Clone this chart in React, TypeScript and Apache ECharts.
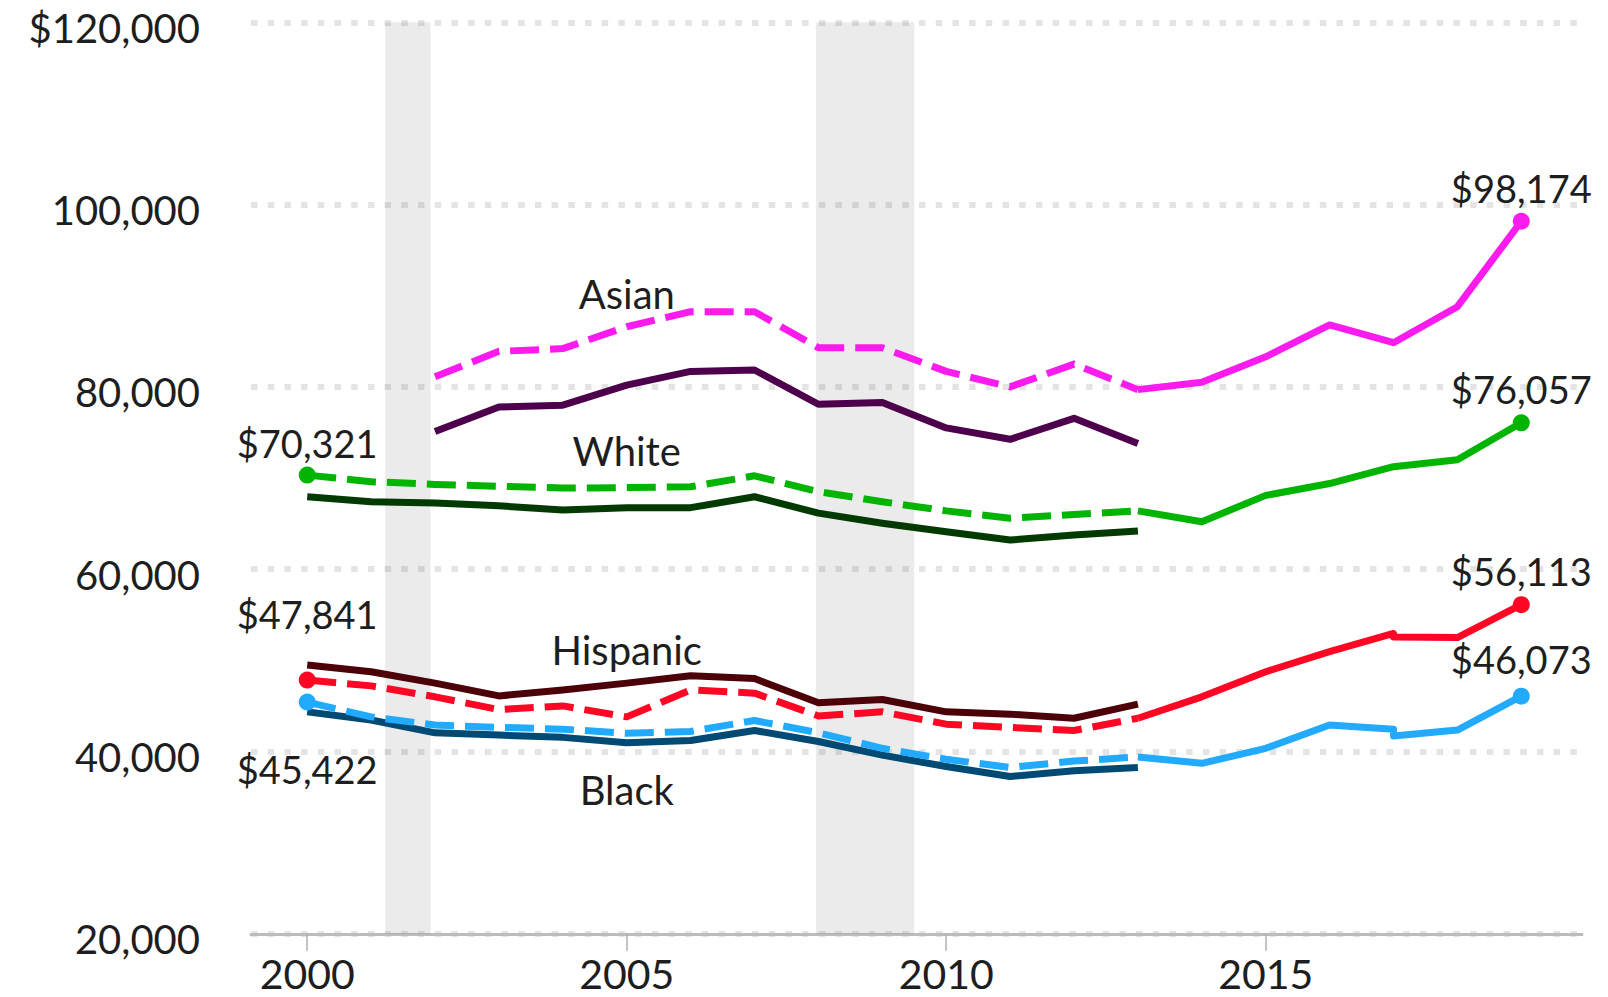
import React, { useEffect, useRef } from 'react';
import * as echarts from 'echarts';

// ---------- data ----------
const oldYears = [2000, 2001, 2002, 2003, 2004, 2005, 2006, 2007, 2008, 2009, 2010, 2011, 2012, 2013];
const asianOldYears = [2002, 2003, 2004, 2005, 2006, 2007, 2008, 2009, 2010, 2011, 2012, 2013];
const newYears = [2013, 2014, 2015, 2016, 2017, 2017, 2018, 2019];

const asianDashed = [81100, 83900, 84200, 86600, 88250, 88250, 84300, 84300, 81700, 80000, 82500, 79700];
const asianSolid = [75100, 77800, 78000, 80200, 81700, 81850, 78100, 78300, 75500, 74250, 76550, 73800];
const asianNew = [79700, 80500, 83300, 86800, 84850, 84850, 88800, 98174];

const whiteDashed = [70321, 69600, 69300, 69100, 68900, 68950, 69050, 70250, 68500, 67400, 66400, 65600, 66000, 66400];
const whiteSolid = [67950, 67400, 67250, 66950, 66500, 66750, 66750, 67950, 66150, 65050, 64100, 63200, 63750, 64200];
const whiteNew = [66400, 65200, 68100, 69400, 71250, 71250, 72000, 76057];

const hispanicDashed = [47841, 47200, 46000, 44600, 45000, 43800, 46750, 46400, 43900, 44350, 43000, 42650, 42300, 43650];
const hispanicSolid = [49500, 48750, 47500, 46100, 46750, 47500, 48300, 48000, 45350, 45700, 44350, 44100, 43650, 45200];
const hispanicNew = [43650, 46000, 48750, 50950, 52950, 52550, 52500, 56113];

const blackDashed = [45422, 43800, 42900, 42650, 42450, 42000, 42200, 43400, 42050, 40350, 39150, 38250, 38950, 39400];
const blackSolid = [44350, 43450, 42050, 41800, 41550, 40950, 41200, 42300, 41100, 39600, 38350, 37250, 37900, 38250];
const blackNew = [39400, 38700, 40350, 42900, 42450, 41700, 42350, 46073];

const recessionStarts = [2001.22, 2007.96];
const recessionEnds = [2001.93, 2009.5];

const xTickYears = [2000, 2005, 2010, 2015];
const groupNames = ['Asian', 'White', 'Hispanic', 'Black'];

// ---------- styling ----------
const FONT = 'Lato, "Open Sans", sans-serif';
const TEXT = '#1e1e1e';
const AXIS_FS = 41;
const Y_FS = 40;
const VALUE_FS = 38;
const NAME_FS = 40;
const C = {
  magenta: '#fc1bee',
  purple: '#4d004b',
  green: '#00b400',
  darkGreen: '#023a02',
  red: '#ff0624',
  maroon: '#4c0008',
  lightBlue: '#22aaff',
  darkBlue: '#004a74',
};

const fmt = (v: number) => '$' + v.toLocaleString('en-US');

function line(xs: number[], ys: number[], color: string, dashed: boolean, z = 3) {
  return {
    type: 'line',
    data: xs.map((x, i) => [x, ys[i]]),
    symbol: 'none',
    silent: true,
    z,
    lineStyle: {
      color,
      width: 7,
      opacity: 1,
      type: dashed ? [29, 11] : 'solid',
      cap: 'butt',
      join: 'round',
    },
  };
}

export default function App() {
  const ref = useRef<HTMLDivElement>(null);

  useEffect(() => {
    const chart = echarts.init(ref.current!, null, { renderer: 'svg' });

    const last = (a: number[]) => a[a.length - 1];
    const lastYear = newYears[newYears.length - 1];

    const dots = [
      { value: [oldYears[0], whiteDashed[0]], color: C.green, pos: 'top', dist: 5 },
      { value: [oldYears[0], hispanicDashed[0]], color: C.red, pos: 'top', dist: 39 },
      { value: [oldYears[0], blackDashed[0]], color: C.lightBlue, pos: 'bottom', dist: 39 },
      { value: [lastYear, last(asianNew)], color: C.magenta, pos: 'top', dist: 6 },
      { value: [lastYear, last(whiteNew)], color: C.green, pos: 'top', dist: 6 },
      { value: [lastYear, last(hispanicNew)], color: C.red, pos: 'top', dist: 6 },
      { value: [lastYear, last(blackNew)], color: C.lightBlue, pos: 'top', dist: 10 },
    ].map((d) => ({
      value: d.value,
      itemStyle: { color: d.color, opacity: 1 },
      label: {
        show: true,
        position: d.pos,
        distance: d.dist,
        formatter: (p: any) => fmt(p.value[1]),
        fontFamily: FONT,
        fontSize: VALUE_FS,
        color: TEXT,
      },
    }));

    const groupAnchors = [90200, 72950, 51150, 35800];
    const nameLabels = groupNames.map((n, i) => ({
      value: [2005, groupAnchors[i]],
      name: n,
    }));

    const option = {
      animation: false,
      backgroundColor: '#ffffff',
      grid: { left: 251, right: 26, top: 22.3, bottom: 63.2, containLabel: false },
      xAxis: {
        type: 'value',
        min: 1999.12,
        max: 2019.95,
        splitLine: { show: false },
        axisLine: { show: true, lineStyle: { color: '#bcbcbc', width: 3 } },
        axisTick: {
          show: true,
          customValues: xTickYears,
          length: 17,
          lineStyle: { color: '#b0b0b0', width: 1.5 },
        },
        axisLabel: {
          show: true,
          customValues: xTickYears,
          formatter: (v: number) => String(v),
          fontFamily: FONT,
          fontSize: AXIS_FS,
          lineHeight: 34,
          color: TEXT,
          margin: 23,
        },
      },
      yAxis: {
        type: 'value',
        min: 20000,
        max: 120000,
        interval: 20000,
        axisLine: { show: false },
        axisTick: { show: false },
        splitLine: {
          show: true,
          lineStyle: { color: '#e4e4e4', width: 6, type: [6.5, 10.2] },
        },
        axisLabel: {
          formatter: (v: number) => (v === 120000 ? fmt(v) : v.toLocaleString('en-US')),
          fontFamily: FONT,
          fontSize: Y_FS,
          lineHeight: 11,
          verticalAlign: 'top',
          color: TEXT,
          margin: 51,
        },
      },
      series: [
        {
          type: 'line',
          data: [],
          z: 1,
          silent: true,
          markArea: {
            silent: true,
            itemStyle: { color: 'rgba(0,0,0,0.08)' },
            data: recessionStarts.map((s, i) => [{ xAxis: s }, { xAxis: recessionEnds[i] }]),
          },
        },
        line(asianOldYears, asianSolid, C.purple, false),
        line(asianOldYears, asianDashed, C.magenta, true),
        line(newYears, asianNew, C.magenta, false),
        line(oldYears, whiteSolid, C.darkGreen, false),
        line(oldYears, whiteDashed, C.green, true),
        line(newYears, whiteNew, C.green, false),
        line(oldYears, hispanicSolid, C.maroon, false),
        line(oldYears, hispanicDashed, C.red, true),
        line(newYears, hispanicNew, C.red, false),
        line(oldYears, blackSolid, C.darkBlue, false),
        line(oldYears, blackDashed, C.lightBlue, true),
        line(newYears, blackNew, C.lightBlue, false),
        {
          type: 'scatter',
          z: 5,
          silent: true,
          symbol: 'circle',
          symbolSize: 17,
          itemStyle: { opacity: 1 },
          data: dots,
        },
        {
          type: 'scatter',
          z: 5,
          silent: true,
          symbolSize: 0,
          itemStyle: { opacity: 1 },
          data: nameLabels,
          label: {
            show: true,
            position: 'inside',
            formatter: (p: any) => p.name,
            fontFamily: FONT,
            fontSize: NAME_FS,
            color: TEXT,
          },
        },
      ],
    };

    chart.setOption(option as any);
    return () => chart.dispose();
  }, []);

  return (
    <div
      ref={ref}
      style={{ position: 'fixed', left: 0, top: 0, width: 1608, height: 997, background: '#fff' }}
    />
  );
}
